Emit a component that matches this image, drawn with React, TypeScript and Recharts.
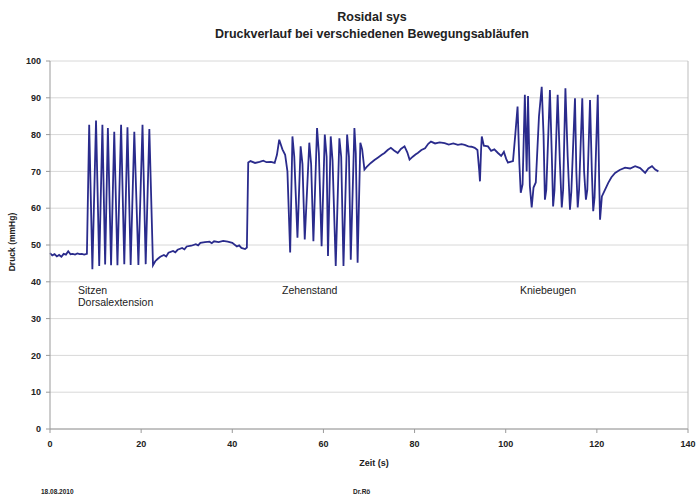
import { LineChart, Line, XAxis, YAxis, CartesianGrid, ReferenceLine } from 'recharts';

// [zeit (s), druck (mmHg)], per phase
const ruheAnfang: [number, number][] = [
  [0, 47.8], [0.5, 47.2], [1, 47.5], [1.5, 46.9], [2, 47.3], [2.5, 46.8], [3, 47.6], [3.5, 47.4],
  [4, 48.3], [4.5, 47.5], [5, 47.6], [5.5, 47.4], [6, 47.7], [6.5, 47.5], [7, 47.6], [7.5, 47.4], [8.1, 47.6],
];

const sitzen: [number, number][] = [
  [8.6, 82.7], [9.3, 43.4], [10.1, 83.8], [10.8, 44.3], [11.5, 82.7], [12.1, 44.7], [12.7, 81.8],
  [13.4, 44.5], [14.1, 80.8], [14.8, 44.5], [15.6, 82.7], [16.3, 44.8], [17.0, 82.0], [17.7, 44.6],
  [18.5, 80.8], [19.4, 44.6], [20.3, 82.7], [21.0, 44.8], [21.8, 81.5], [22.6, 44.5],
];

const ruheMitte: [number, number][] = [
  [23.1, 45.6], [23.6, 46.2], [24.2, 46.8], [25, 47.3], [25.5, 46.9], [26, 47.9], [27, 48.4], [27.5, 48.0],
  [28, 48.7], [29, 49.2], [29.5, 48.8], [30, 49.6], [31, 49.8], [32, 50.2], [32.5, 49.9], [33, 50.6],
  [34, 50.8], [35, 50.9], [35.5, 50.5], [36, 51.0], [37, 50.8], [38, 51.1], [39, 50.9], [40, 50.6],
  [41, 49.6], [41.5, 49.9], [42, 49.2], [42.8, 48.9], [43.2, 49.3],
];

const zehenstand: [number, number][] = [
  [43.5, 72.4], [44, 72.8], [45, 72.3], [46, 72.6], [46.8, 72.9], [47.5, 72.5], [48.5, 72.6], [49.3, 72.3],
  [49.8, 74.5], [50.3, 78.6], [51, 76], [51.6, 74.5], [52.1, 70], [52.7, 48], [53.2, 79.5], [53.6, 74],
  [54.3, 52], [55.0, 76.8], [55.4, 72], [55.9, 51.5], [56.9, 77.8], [57.3, 72], [57.8, 51], [58.6, 81.8],
  [59.0, 75], [59.6, 49.7], [60.3, 80], [60.7, 74], [61.0, 47], [61.6, 79.5], [62.0, 73], [62.7, 44.3],
  [63.5, 79], [63.9, 74], [64.4, 44.3], [65.2, 80], [65.6, 74], [66.0, 46], [66.8, 81.8], [67.1, 75],
  [67.5, 45.2], [68.1, 77.8], [68.5, 76], [69.0, 70.5],
];

const ruheStehen: [number, number][] = [
  [69.5, 71.2], [70.4, 72.3], [71.2, 73.1], [72, 73.8], [72.8, 74.5], [73.4, 75], [74.1, 75.8], [74.8, 76.4],
  [75.5, 75.7], [76.3, 75], [77, 76.1], [77.8, 76.8], [78.4, 75.2], [78.9, 73.2], [79.6, 74], [80.2, 74.6],
  [80.7, 75], [81.5, 75.8], [82.3, 76.3], [83, 77.5], [83.6, 78.1], [84.5, 77.6], [85.5, 77.9], [86.6, 77.7],
  [87.5, 77.3], [88.5, 77.6], [89.5, 77.2], [90.3, 77.4], [91, 77.2], [91.8, 76.8], [92.5, 76.7], [93.2, 76.4],
  [93.8, 75.8], [94.2, 70], [94.35, 67.3], [94.6, 76], [94.75, 79.5], [95.2, 77], [96.1, 76.8], [96.8, 75.6],
  [97.5, 76], [98.3, 75], [99, 74.2], [99.6, 75.3], [100.1, 73.4], [100.5, 72.4], [101, 72.6], [101.6, 72.8],
];

const kniebeugen: [number, number][] = [
  [102.1, 80], [102.6, 87.6], [103.0, 72], [103.3, 64.2], [103.7, 66.5], [104.2, 90.8], [104.6, 70],
  [104.9, 90.5], [105.3, 66], [105.7, 60.2], [106.1, 65.6], [106.6, 67], [107.3, 85], [107.9, 93],
  [108.3, 80], [108.6, 62.3], [108.9, 65], [109.7, 92.1], [110.1, 75], [110.4, 60.5], [110.7, 64.8],
  [111.4, 90.8], [111.9, 72], [112.3, 60.2], [112.6, 65], [113.1, 92.6], [113.6, 74], [114.1, 59.6],
  [114.4, 64.5], [115.2, 89.9], [115.5, 70], [115.8, 60.2], [116.1, 65], [116.8, 89.9], [117.2, 70],
  [117.6, 62.3], [117.9, 65], [118.5, 89.4], [118.9, 70], [119.2, 59.2], [119.5, 63], [120.2, 90.8],
  [120.5, 68], [120.7, 56.9],
];

const ruheEnde: [number, number][] = [
  [121.1, 63.2], [121.6, 64.5], [122.5, 66.9], [123.2, 68.4], [124, 69.6], [125, 70.4], [126.2, 71],
  [127.3, 70.8], [128.4, 71.4], [129.5, 70.9], [130.6, 69.6], [131.3, 70.8], [132.1, 71.4], [132.8, 70.5], [133.5, 70],
];

const xTicks = [0, 20, 40, 60, 80, 100, 120, 140];
const yTicks = [0, 10, 20, 30, 40, 50, 60, 70, 80, 90, 100];

const data = [...ruheAnfang, ...sitzen, ...ruheMitte, ...zehenstand, ...ruheStehen, ...kniebeugen, ...ruheEnde]
  .map(([zeit, druck]) => ({ zeit, druck }));

const font = '"Liberation Sans", Arial, sans-serif';
const axisTick = { fontSize: 9, fontWeight: 700, fill: '#222', fontFamily: font };

const txt = (style: React.CSSProperties): React.CSSProperties => ({
  position: 'absolute', fontFamily: font, color: '#222', whiteSpace: 'nowrap', lineHeight: 1, ...style,
});

export default function App() {
  return (
    <div style={{ position: 'absolute', left: 0, top: 0, width: 697, height: 498, background: '#fff' }}>
      <LineChart width={697} height={498} data={data} margin={{ top: 61, right: 9, bottom: 39, left: 0 }}>
        <CartesianGrid vertical={false} stroke="#d8d8d8" />
        <XAxis
          dataKey="zeit"
          type="number"
          domain={[0, 140]}
          ticks={xTicks}
          tick={axisTick}
          tickSize={4}
          tickMargin={8}
          height={30}
          stroke="#9a9a9a"
        />
        <YAxis
          type="number"
          domain={[0, 100]}
          ticks={yTicks}
          tick={axisTick}
          tickSize={4}
          tickMargin={5}
          width={50}
          stroke="#9a9a9a"
        />
        <ReferenceLine x={140} stroke="#bdbdbd" />
        <Line
          type="linear"
          dataKey="druck"
          stroke="#2a2b8c"
          strokeWidth={1.8}
          dot={false}
          isAnimationActive={false}
        />
      </LineChart>

      <div style={txt({ left: 372, top: 11, transform: 'translateX(-50%)', fontSize: 12.5, fontWeight: 700 })}>Rosidal sys</div>
      <div style={txt({ left: 372, top: 28, transform: 'translateX(-50%)', fontSize: 12.5, fontWeight: 700 })}>
        Druckverlauf bei verschiedenen Bewegungsabläufen
      </div>
      <div style={txt({ left: 12, top: 242, transform: 'translate(-50%, -50%) rotate(-90deg)', fontSize: 8.5, fontWeight: 700 })}>
        Druck (mmHg)
      </div>
      <div style={txt({ left: 374, top: 459, transform: 'translateX(-50%)', fontSize: 9, fontWeight: 700 })}>Zeit (s)</div>

      <div style={txt({ left: 78, top: 285, fontSize: 10.5 })}>Sitzen</div>
      <div style={txt({ left: 78, top: 297, fontSize: 10.5 })}>Dorsalextension</div>
      <div style={txt({ left: 282, top: 285, fontSize: 10.5 })}>Zehenstand</div>
      <div style={txt({ left: 520, top: 285, fontSize: 10.5 })}>Kniebeugen</div>

      <div style={txt({ left: 41, top: 489, fontSize: 6.5, fontWeight: 700 })}>18.08.2010</div>
      <div style={txt({ left: 353, top: 489, fontSize: 6.5, fontWeight: 700 })}>Dr.Rö</div>
    </div>
  );
}
